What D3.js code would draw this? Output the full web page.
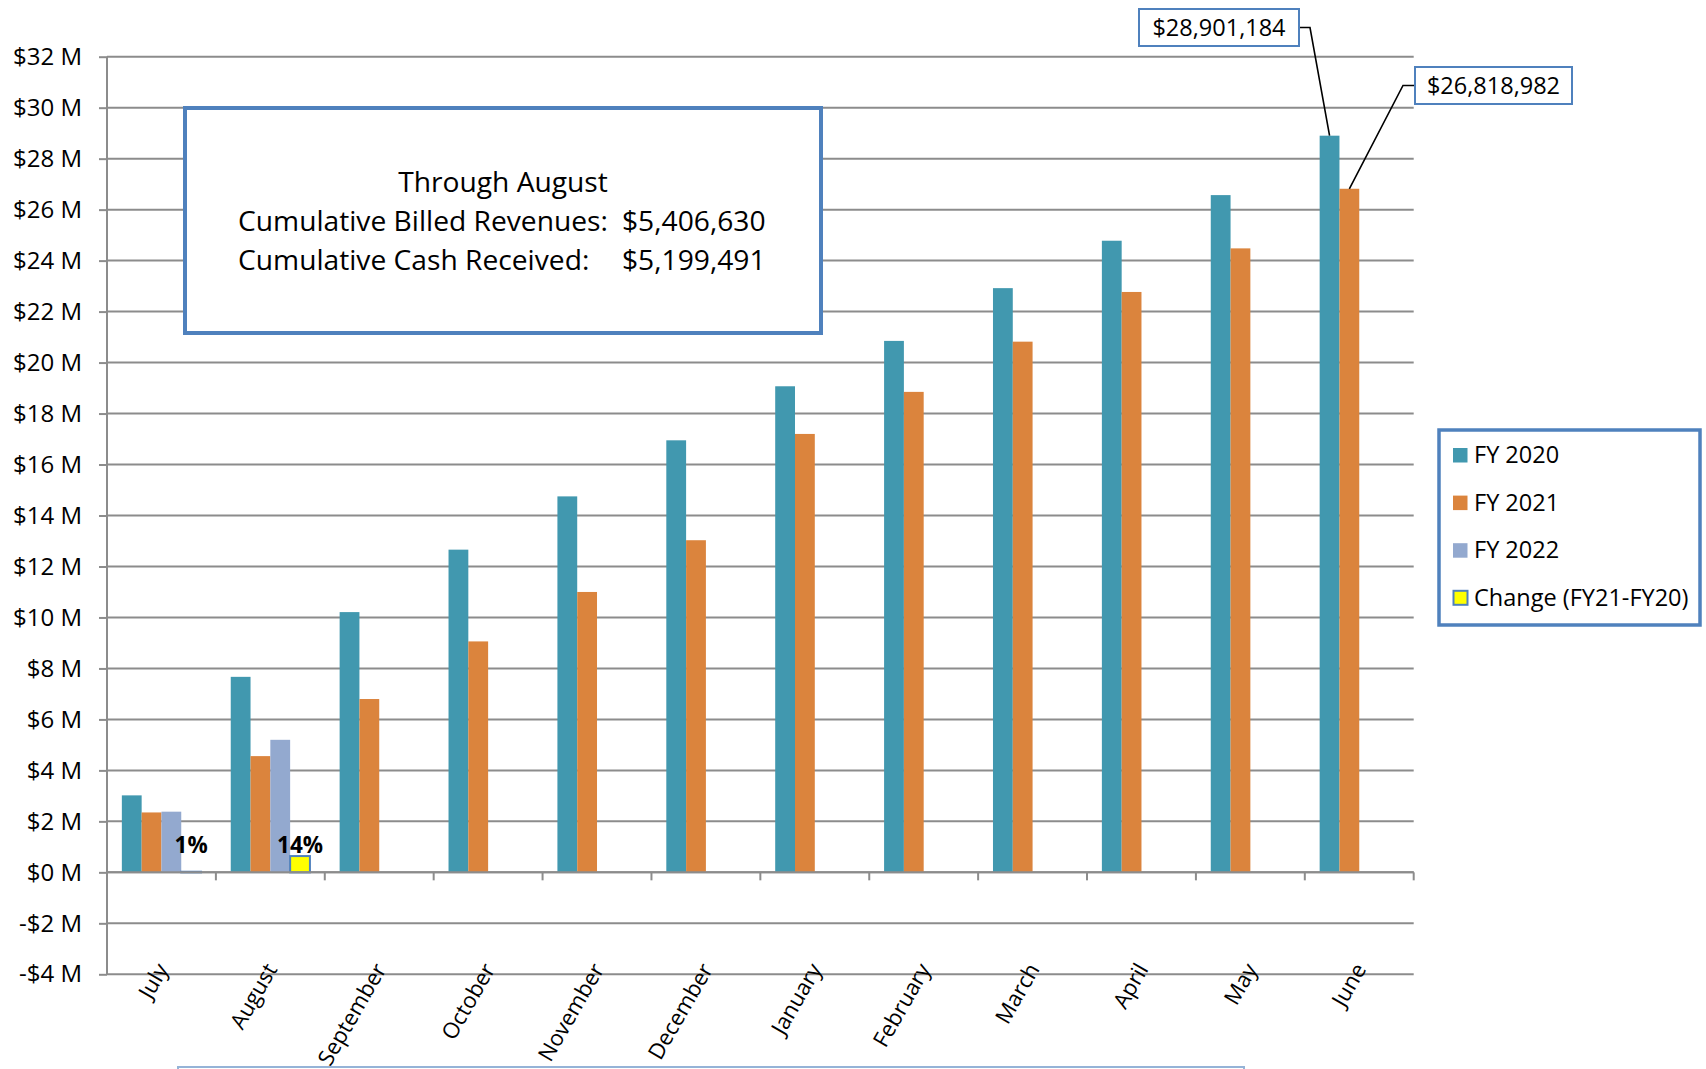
<!DOCTYPE html>
<html>
<head>
<meta charset="utf-8">
<script src="https://cdn.jsdelivr.net/npm/d3@7"></script>
<style>
  body { margin: 0; background: #fff; }
  svg { display: block; font-family: "Open Sans", "Noto Sans", sans-serif; }
</style>
</head>
<body>
<svg id="chart" width="1706" height="1069"></svg>
<script>
// Cumulative revenue by month, in millions of dollars
const months = ["July", "August", "September", "October", "November", "December",
                "January", "February", "March", "April", "May", "June"];
const fy2020 = [3.02, 7.67, 10.21, 12.66, 14.75, 16.95, 19.07, 20.85, 22.92, 24.78, 26.57, 28.901184];
const fy2021 = [2.35, 4.56, 6.80, 9.06, 11.00, 13.03, 17.20, 18.85, 20.82, 22.77, 24.48, 26.818982];
const fy2022 = [2.38, 5.199491];
const changePct = [0.01, 0.14];

const seriesNames = ["FY 2020", "FY 2021", "FY 2022", "Change (FY21-FY20)"];
const seriesColors = ["#4198AF", "#DB843D", "#93A9CF", "#FFFF00"];
const yTicks = [-4, -2, 0, 2, 4, 6, 8, 10, 12, 14, 16, 18, 20, 22, 24, 26, 28, 30, 32];

const summaryTitle = "Through August";
const summaryLabels = ["Cumulative Billed Revenues:", "Cumulative Cash Received:"];
const summaryValues = ["$5,406,630", "$5,199,491"];

const svg = d3.select("#chart");
const plot = { left: 107, right: 1413.7, top: 56.7, bottom: 974.3 };

const y = d3.scaleLinear().domain([-4, 32]).range([plot.bottom, plot.top]);
const x0 = d3.scaleBand().domain(months).range([plot.left, plot.right]).padding(0);
const x1 = d3.scaleBand().domain(seriesNames).range([0, x0.bandwidth()])
  .paddingInner(0).paddingOuter(0.75);

const fmtMoney = v => (v < 0 ? "-$" : "$") + Math.abs(v) + " M";
const fmtDollars = d3.format("$,.0f");

// gridlines
svg.append("g").selectAll("line").data(yTicks).join("line")
  .attr("x1", plot.left).attr("x2", plot.right)
  .attr("y1", d => y(d)).attr("y2", d => y(d))
  .attr("stroke", "#8c8c8c").attr("stroke-width", 2);

// y axis
const yAxis = svg.append("g").attr("transform", `translate(${plot.left},0)`)
  .call(d3.axisLeft(y).tickValues(yTicks).tickFormat(fmtMoney).tickSize(8).tickPadding(17));
yAxis.select(".domain").remove();
yAxis.selectAll(".tick line").attr("stroke", "#8c8c8c").attr("stroke-width", 2);
yAxis.selectAll(".tick text").attr("font-size", 24).attr("fill", "#000")
  .attr("font-family", "Open Sans, sans-serif");
svg.append("line").attr("x1", plot.left).attr("x2", plot.left)
  .attr("y1", y(32)).attr("y2", y(-4)).attr("stroke", "#8c8c8c").attr("stroke-width", 2);

// category boundary ticks on the zero line
const boundaries = months.map(m => x0(m)).concat([plot.right]);
svg.append("g").selectAll("line").data(boundaries).join("line")
  .attr("x1", d => d).attr("x2", d => d)
  .attr("y1", y(0)).attr("y2", y(0) + 8)
  .attr("stroke", "#8c8c8c").attr("stroke-width", 2);

// bars
const rows = months.map((m, i) => ({
  month: m,
  values: [
    { key: seriesNames[0], v: fy2020[i] },
    { key: seriesNames[1], v: fy2021[i] },
    { key: seriesNames[2], v: fy2022[i] },
    { key: seriesNames[3], v: changePct[i] !== undefined ? fy2021[i] * changePct[i] : undefined, pct: changePct[i] }
  ].filter(d => d.v !== undefined)
}));
const color = d3.scaleOrdinal().domain(seriesNames).range(seriesColors);

const groups = svg.append("g").selectAll("g").data(rows).join("g")
  .attr("transform", d => `translate(${x0(d.month)},0)`);
groups.selectAll("rect").data(d => d.values).join("rect")
  .attr("x", d => x1(d.key))
  .attr("width", x1.bandwidth())
  .attr("y", d => y(Math.max(0, d.v)))
  .attr("height", d => Math.abs(y(d.v) - y(0)))
  .attr("fill", d => color(d.key))
  .attr("stroke", d => d.key === seriesNames[3] ? "#4F81BD" : "none")
  .attr("stroke-width", 2);

// percent labels over the change bars
groups.selectAll("text.pct").data(d => d.values.filter(v => v.pct !== undefined)).join("text")
  .attr("class", "pct")
  .attr("x", d => x1(d.key) + x1.bandwidth() / 2)
  .attr("y", y(0) - 19.5)
  .attr("text-anchor", "middle")
  .attr("font-size", 22.5).attr("font-weight", "bold")
  .text(d => Math.round(d.pct * 100) + "%");

// x axis month labels
const xAxis = svg.append("g").attr("transform", `translate(0,${y(-4)})`)
  .call(d3.axisBottom(x0).tickSize(0));
xAxis.select(".domain").remove();
xAxis.selectAll(".tick text")
  .attr("font-size", 22).attr("fill", "#000").attr("font-family", "Open Sans, sans-serif")
  .attr("text-anchor", "end")
  .attr("x", 0).attr("y", 0).attr("dy", "0.35em")
  .attr("transform", "translate(1,-9) rotate(-60)");

// zero line
svg.append("line").attr("x1", plot.left).attr("x2", plot.right)
  .attr("y1", y(0)).attr("y2", y(0)).attr("stroke", "#8c8c8c").attr("stroke-width", 2);

// summary box
const box = svg.append("g");
box.append("rect").attr("x", 185).attr("y", 108).attr("width", 636).attr("height", 225)
  .attr("fill", "#fff").attr("stroke", "#4F81BD").attr("stroke-width", 4);
box.append("text").attr("x", 503).attr("y", 192).attr("text-anchor", "middle")
  .attr("font-size", 28.2).text(summaryTitle);
summaryLabels.forEach((t, i) => {
  box.append("text").attr("x", 238).attr("y", 231 + i * 39).attr("font-size", 28.2).text(t);
  box.append("text").attr("x", 622).attr("y", 231 + i * 39)
    .attr("font-size", 28.2).text(summaryValues[i]);
});

// June callouts
const juneIdx = months.length - 1;
const callouts = [
  { key: seriesNames[0], v: fy2020[juneIdx], bx: 1139, by: 9, bw: 160, bh: 37, side: "right" },
  { key: seriesNames[1], v: fy2021[juneIdx], bx: 1415, by: 67, bw: 157, bh: 37, side: "left" }
];
callouts.forEach(c => {
  const tx = x0("June") + x1(c.key) + x1.bandwidth() / 2;
  const ty = y(c.v);
  const midY = c.by + c.bh / 2;
  const sx = c.side === "right" ? c.bx + c.bw : c.bx;
  const kx = c.side === "right" ? sx + 11 : sx - 12;
  svg.append("polyline")
    .attr("points", `${sx},${midY} ${kx},${midY} ${tx},${ty}`)
    .attr("fill", "none").attr("stroke", "#000").attr("stroke-width", 1.6);
  svg.append("rect").attr("x", c.bx).attr("y", c.by).attr("width", c.bw).attr("height", c.bh)
    .attr("fill", "#fff").attr("stroke", "#4F81BD").attr("stroke-width", 2);
  svg.append("text").attr("x", c.bx + c.bw / 2).attr("y", midY).attr("dy", "0.36em")
    .attr("text-anchor", "middle").attr("font-size", 23.5).text(fmtDollars(c.v * 1e6));
});

// legend
const legend = svg.append("g");
legend.append("rect").attr("x", 1439).attr("y", 430).attr("width", 261).attr("height", 195)
  .attr("fill", "#fff").attr("stroke", "#4F81BD").attr("stroke-width", 3.5);
seriesNames.forEach((name, i) => {
  const base = 463 + i * 47.6;
  const isChange = i === 3;
  legend.append("rect")
    .attr("x", isChange ? 1453.5 : 1453).attr("y", base - 15)
    .attr("width", isChange ? 14 : 14.5).attr("height", isChange ? 14 : 14.5)
    .attr("fill", seriesColors[i])
    .attr("stroke", isChange ? "#4F81BD" : "none").attr("stroke-width", 2);
  legend.append("text").attr("x", 1474).attr("y", base).attr("font-size", 23.5).text(name);
});

// edge of the panel below
svg.append("rect").attr("x", 178).attr("y", 1067).attr("width", 1066).attr("height", 30)
  .attr("fill", "none").attr("stroke", "#95B3D7").attr("stroke-width", 2);
</script>
</body>
</html>
